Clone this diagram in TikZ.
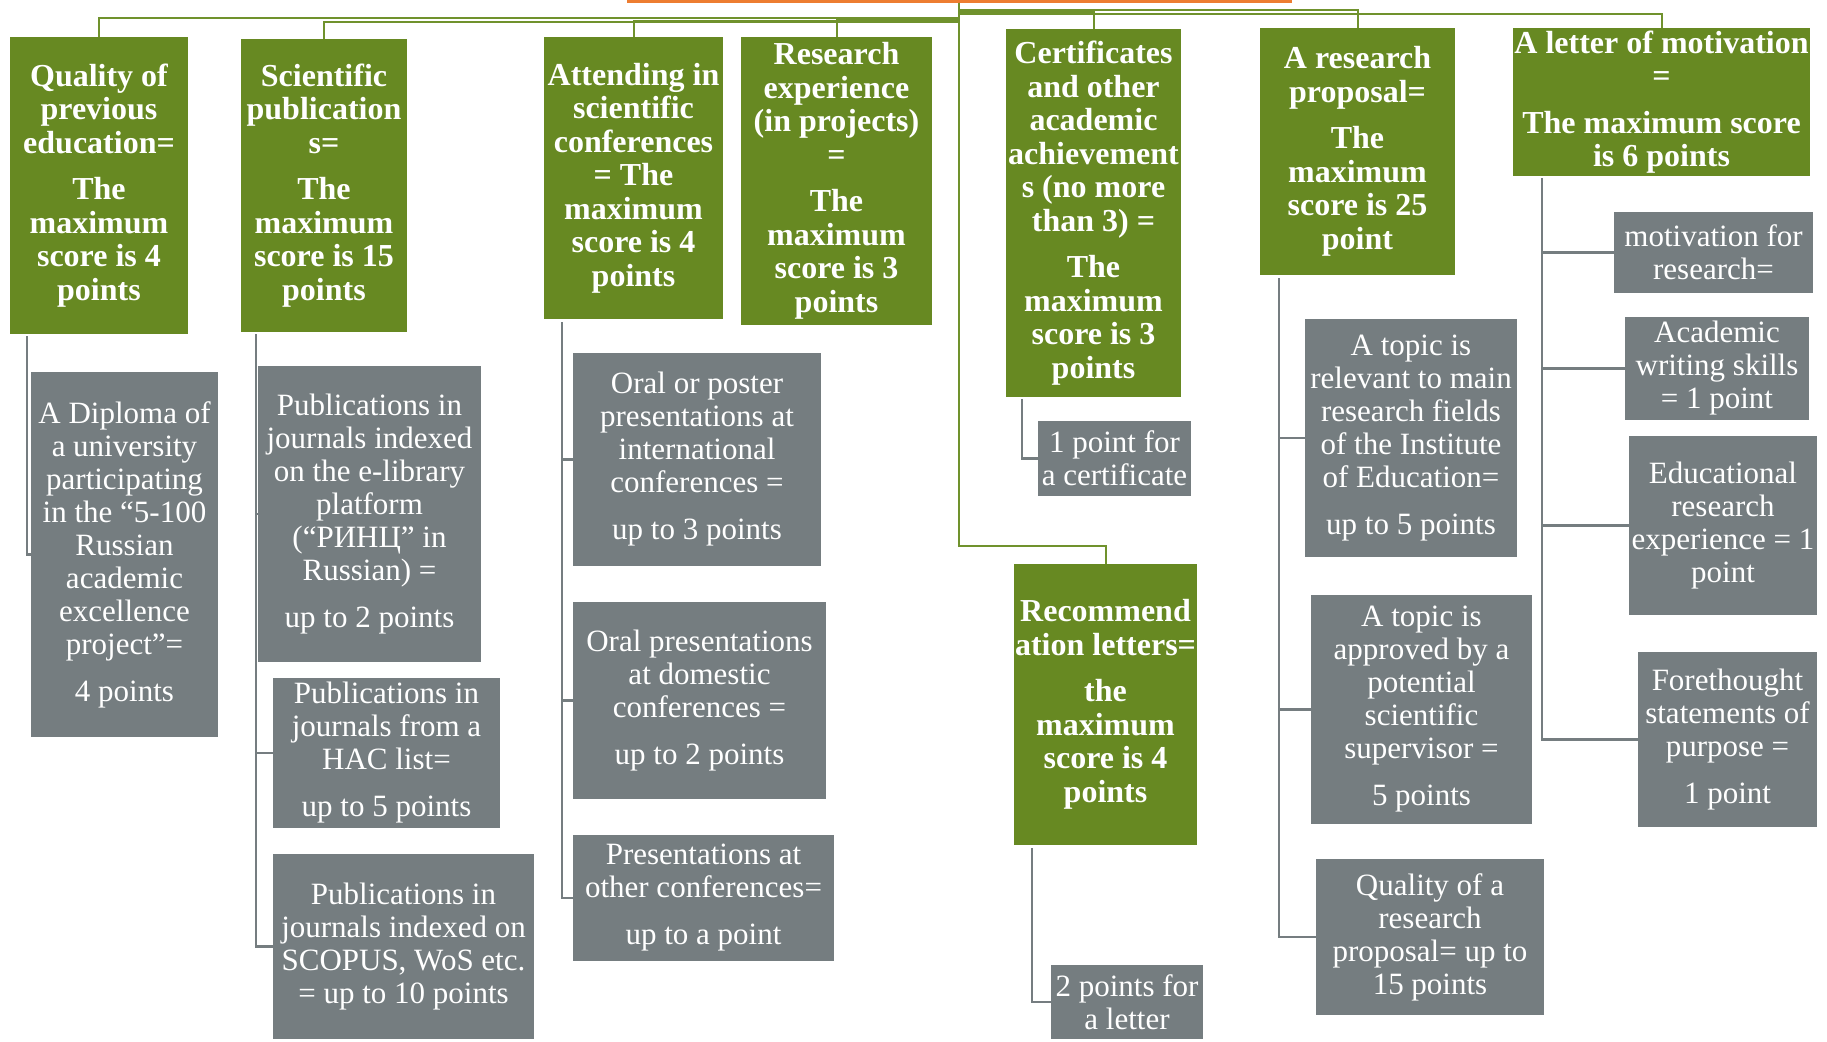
\documentclass[tikz,border=0pt]{standalone}
\usepackage{fontspec}
\setmainfont{Liberation Serif}
\definecolor{boxgreen}{RGB}{103,137,34}
\definecolor{boxgray}{RGB}{117,125,128}
\definecolor{linkgreen}{RGB}{112,146,45}
\definecolor{goalorange}{RGB}{237,125,49}

\begin{document}
\begin{tikzpicture}[x=1pt, y=-1pt,
        mainbox/.style={rectangle, fill=boxgreen, text=white, inner sep=0pt,
                        align=center, font=\fontsize{32}{33.5}\selectfont\bfseries},
        subbox/.style={rectangle, fill=boxgray, text=white, inner sep=0pt,
                       align=center, font=\fontsize{31}{33}\selectfont},
        gline/.style={draw=linkgreen, line width=2pt},
        sline/.style={draw=boxgray, line width=2.5pt}
    ]
    \useasboundingbox (0,0) rectangle (1827,1041);

    %% -- root box (only its lower edge shows) ----------------------------
    \node[draw=goalorange, line width=3pt, minimum width=662pt,
          minimum height=60pt] (goal) at (959,-28.5) {};
    \coordinate (root) at (goal.south);

    %% -- criteria (green) -------------------------------------------------
    \node[mainbox, minimum width=178pt, minimum height=297pt] (qual) at (99,185.5)
        {Quality of\\previous\\education=\\[13pt]The\\maximum\\score is 4\\points};
    \node[mainbox, minimum width=166pt, minimum height=293pt] (sci) at (324,185.5)
        {Scientific\\publication\\s=\\[13pt]The\\maximum\\score is 15\\points};
    \node[mainbox, minimum width=179pt, minimum height=282pt] (conf) at (633.5,178)
        {Attending in\\scientific\\conferences\\= The\\maximum\\score is 4\\points};
    \node[mainbox, minimum width=191pt, minimum height=288pt] (resexp) at (836.5,181)
        {Research\\experience\\(in projects)\\=\\[13pt]The\\maximum\\score is 3\\points};
    \node[mainbox, minimum width=175pt, minimum height=368pt] (cert) at (1093.5,213)
        {Certificates\\and other\\academic\\achievement\\s (no more\\than 3) =\\[13pt]The\\maximum\\score is 3\\points};
    \node[mainbox, minimum width=195pt, minimum height=247pt] (prop) at (1357.5,151.5)
        {A research\\proposal=\\[13pt]The\\maximum\\score is 25\\point};
    \node[mainbox, minimum width=297pt, minimum height=148pt] (motiv) at (1661.5,102)
        {A letter of motivation\\=\\[13pt]The maximum score\\is 6 points};
    \node[mainbox, minimum width=183pt, minimum height=281pt] (recom) at (1105.5,704.5)
        {Recommend\\ation letters=\\[13pt]the\\maximum\\score is 4\\points};

    %% -- items (gray) -----------------------------------------------------
    \node[subbox, minimum width=187pt, minimum height=365pt] (qualA) at (124.5,554.5)
        {A Diploma of\\a university\\participating\\in the “5-100\\Russian\\academic\\excellence\\project”=\\[14pt]4 points};

    \node[subbox, minimum width=223pt, minimum height=296pt] (sciA) at (369.5,514)
        {Publications in\\journals indexed\\on the e-library\\platform\\(“РИНЦ” in\\Russian) =\\[14pt]up to 2 points};
    \node[subbox, minimum width=227pt, minimum height=150pt] (sciB) at (386.5,753)
        {Publications in\\journals from a\\HAC list=\\[14pt]up to 5 points};
    \node[subbox, minimum width=261pt, minimum height=185pt] (sciC) at (403.5,946.5)
        {Publications in\\journals indexed on\\SCOPUS, WoS etc.\\= up to 10 points};

    \node[subbox, minimum width=248pt, minimum height=213pt] (confA) at (697,459.5)
        {Oral or poster\\presentations at\\international\\conferences =\\[14pt]up to 3 points};
    \node[subbox, minimum width=253pt, minimum height=197pt] (confB) at (699.5,700.5)
        {Oral presentations\\at domestic\\conferences =\\[14pt]up to 2 points};
    \node[subbox, minimum width=261pt, minimum height=126pt] (confC) at (703.5,898)
        {Presentations at\\other conferences=\\[14pt]up to a point};

    \node[subbox, minimum width=153pt, minimum height=75pt] (certA) at (1114.5,458.5)
        {1 point for\\a certificate};
    \node[subbox, minimum width=152pt, minimum height=74pt] (recomA) at (1127,1002)
        {2 points for\\a letter};

    \node[subbox, minimum width=212pt, minimum height=238pt] (propA) at (1411,438)
        {A topic is\\relevant to main\\research fields\\of the Institute\\of Education=\\[14pt]up to 5 points};
    \node[subbox, minimum width=221pt, minimum height=229pt] (propB) at (1421.5,709.5)
        {A topic is\\approved by a\\potential\\scientific\\supervisor =\\[14pt]5 points};
    \node[subbox, minimum width=228pt, minimum height=156pt] (propC) at (1430,937)
        {Quality of a\\research\\proposal= up to\\15 points};

    \node[subbox, minimum width=199pt, minimum height=81pt] (motivA) at (1713.5,252.5)
        {motivation for\\research=};
    \node[subbox, minimum width=184pt, minimum height=103pt] (motivB) at (1717,368.5)
        {Academic\\writing skills\\= 1 point};
    \node[subbox, minimum width=188pt, minimum height=179pt] (motivC) at (1723,525.5)
        {Educational\\research\\experience = 1\\point};
    \node[subbox, minimum width=179pt, minimum height=175pt] (motivD) at (1727.5,739.5)
        {Forethought\\statements of\\purpose =\\[14pt]1 point};

    %% -- green links from the root ---------------------------------------
    \foreach \n/\y in {qual/18, sci/22, conf/21, resexp/20, cert/12, prop/10, motiv/14}
        \draw[gline] (root) -- (root |- 0,\y) -| (\n.north);
    \draw[gline] (root) -- (root |- 0,546) -| (recom.north);

    %% -- gray trunks ------------------------------------------------------
    \coordinate (qualT)  at (27,336);
    \coordinate (sciT)   at (256,334);
    \coordinate (confT)  at (562,322);
    \coordinate (certT)  at (1022,399);
    \coordinate (recomT) at (1032,848);
    \coordinate (propT)  at (1279,278);
    \coordinate (motivT) at (1542,178);

    \draw[sline] (qualT) |- (qualA.west);
    \draw[sline] (sciT) |- (sciC.west);
    \draw[sline] (confT) |- (confC.west);
    \draw[sline] (certT) |- (certA.west);
    \draw[sline] (recomT) |- (recomA.west);
    \draw[sline] (propT) |- (propC.west);
    \draw[sline] (motivT) |- (motivD.west);
    \foreach \t/\b in {sciT/sciA, sciT/sciB, confT/confA, confT/confB,
                       propT/propA, propT/propB, motivT/motivA, motivT/motivB, motivT/motivC}
        \draw[sline] (\t |- \b.west) -- (\b.west);

\end{tikzpicture}
\end{document}
